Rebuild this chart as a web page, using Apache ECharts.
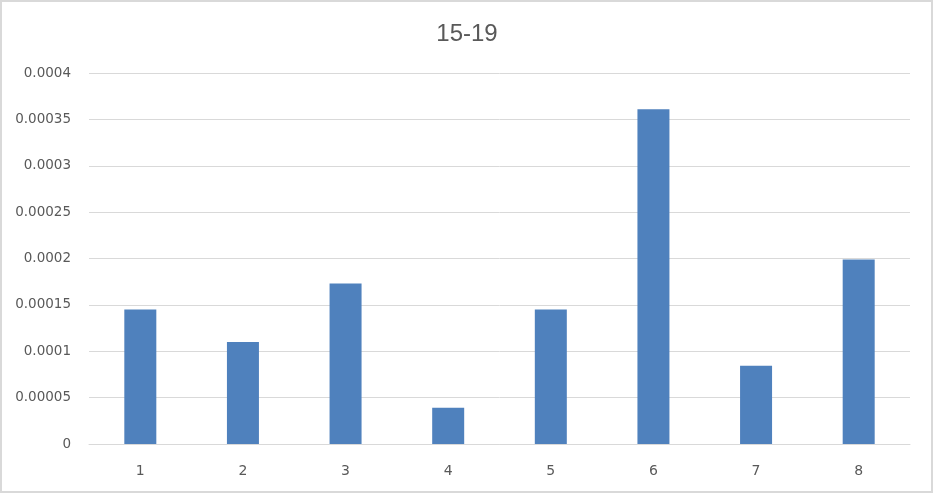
<!DOCTYPE html>
<html>
<head>
<meta charset="utf-8">
<script src="https://cdn.jsdelivr.net/npm/echarts@6/dist/echarts.min.js"></script>
<style>html,body{margin:0;padding:0;background:#fff}#chart{width:934px;height:494px}</style>
</head>
<body>
<div id="chart"></div>
<script>
const titleText = "15-19";
const categories = ["1", "2", "3", "4", "5", "6", "7", "8"];
const values = [0.000145, 0.00011, 0.000173, 0.000039, 0.000145, 0.000361, 0.0000845, 0.000199];
const yTicks = [0, 0.00005, 0.0001, 0.00015, 0.0002, 0.00025, 0.0003, 0.00035, 0.0004];

const chart = echarts.init(document.getElementById('chart'));
chart.setOption({
  animation: false,
  backgroundColor: '#ffffff',
  title: {
    text: titleText,
    left: 'center',
    top: 22,
    padding: 0,
    textStyle: { fontFamily: 'Liberation Sans', fontSize: 24, fontWeight: 'normal', color: '#595959' }
  },
  graphic: [{
    type: 'rect',
    shape: { x: 1, y: 1, width: 931, height: 491 },
    style: { fill: 'none', stroke: '#d9d9d9', lineWidth: 2 },
    silent: true
  }],
  grid: { left: 89, right: 24, top: 73, bottom: 50, containLabel: false },
  xAxis: {
    type: 'category',
    data: categories,
    axisLine: { show: true, lineStyle: { color: '#d9d9d9', width: 1 } },
    axisTick: { show: false },
    axisLabel: { margin: 20, fontFamily: 'DejaVu Sans', fontSize: 14, color: '#595959' }
  },
  yAxis: {
    type: 'value',
    min: yTicks[0],
    max: yTicks[yTicks.length - 1],
    interval: yTicks[1] - yTicks[0],
    axisLine: { show: false },
    axisTick: { show: false },
    splitLine: { lineStyle: { color: '#d9d9d9', width: 1 } },
    axisLabel: {
      margin: 18,
      fontFamily: 'DejaVu Sans', fontSize: 13.5, color: '#595959',
      formatter: function (v) {
        let best = yTicks.reduce((a, b) => Math.abs(b - v) < Math.abs(a - v) ? b : a);
        return String(parseFloat(best.toPrecision(6)));
      }
    }
  },
  series: [{
    type: 'bar',
    data: values,
    barWidth: 32,
    itemStyle: { color: '#4f81bd' }
  }]
});
</script>
</body>
</html>
